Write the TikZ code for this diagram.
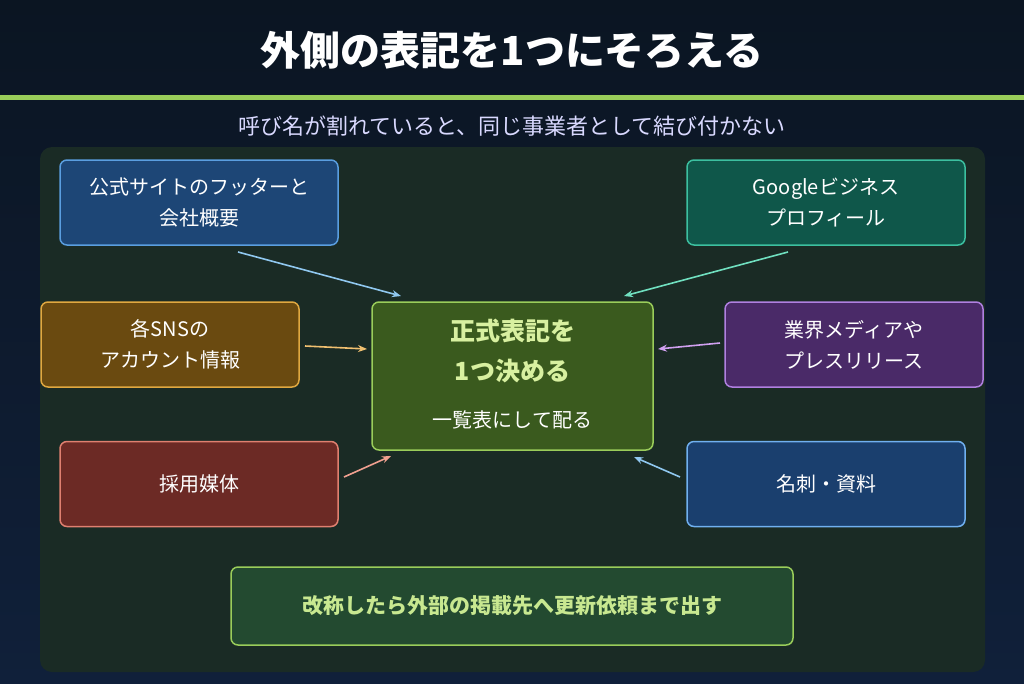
\documentclass[tikz,border=0pt]{standalone}
\usepackage{fontspec}
\setmainfont{Noto Sans CJK JP}
\usetikzlibrary{arrows.meta}
\definecolor{bgtop}{HTML}{0B1522}
\definecolor{bgbot}{HTML}{10203A}
\definecolor{accent}{HTML}{9ACD5A}
\definecolor{panel}{HTML}{1A2B25}
\definecolor{sitefill}{HTML}{1D4676}\definecolor{siteline}{HTML}{5A9EE0}
\definecolor{gbpfill}{HTML}{0F574A}\definecolor{gbpline}{HTML}{3CC0A0}
\definecolor{snsfill}{HTML}{6A4A10}\definecolor{snsline}{HTML}{E0A840}
\definecolor{mediafill}{HTML}{4A2A68}\definecolor{medialine}{HTML}{B080E0}
\definecolor{hirefill}{HTML}{6C2A25}\definecolor{hireline}{HTML}{E08070}
\definecolor{cardfill}{HTML}{1A3F6E}\definecolor{cardline}{HTML}{70B0F0}
\definecolor{mainfill}{HTML}{3A5A1E}\definecolor{maintext}{HTML}{D8F0A0}
\definecolor{rulefill}{HTML}{234A30}\definecolor{ruletext}{HTML}{C8E890}
\definecolor{arblue}{HTML}{90C8F0}\definecolor{arteal}{HTML}{70E0C0}
\definecolor{arorange}{HTML}{F0C070}\definecolor{arpurple}{HTML}{D0A0F0}
\definecolor{arpink}{HTML}{F0A090}
\tikzset{
  box/.style={draw, line width=1.5pt, rounded corners=7pt, minimum width=278pt,
    minimum height=85pt, align=center, text=white, font=\fontsize{20}{31}\selectfont},
  feed/.style={-{Stealth[length=9pt,width=7pt]}, line width=1.6pt},
}
\begin{document}
\begin{tikzpicture}[x=1pt,y=-1pt]
        \shade[top color=bgtop, bottom color=bgbot] (0,0) rectangle (1024,683);
        \useasboundingbox (0,0) rectangle (1024,683);
        \node[font=\bfseries\fontsize{40}{44}\selectfont, text=white] (title) at (512,50) {外側の表記を1つにそろえる};
        \fill[accent] (0,94.5) rectangle (1024,99.5);
        \node[font=\fontsize{22}{26}\selectfont, text=white!85!blue] (sub) at (512,126) {呼び名が割れていると、同じ事業者として結び付かない};
        \fill[panel, rounded corners=12pt] (40,147) rectangle (985,672);
        % sources
        \node[box, fill=sitefill, draw=siteline] (site) at (199,202.5) {公式サイトのフッターと\\会社概要};
        \node[box, fill=gbpfill, draw=gbpline] (gbp) at (826,202.5) {Googleビジネス\\プロフィール};
        \node[box, fill=snsfill, draw=snsline, minimum width=258pt] (sns) at (170,344.5) {各SNSの\\アカウント情報};
        \node[box, fill=mediafill, draw=medialine, minimum width=258pt] (media) at (854,344.5) {業界メディアや\\プレスリリース};
        \node[box, fill=hirefill, draw=hireline] (hire) at (199,484) {採用媒体};
        \node[box, fill=cardfill, draw=cardline] (card) at (826,484) {名刺・資料};
        % center
        \node[box, fill=mainfill, draw=accent, minimum width=281pt, minimum height=148pt] (main) at (512.5,376) {};
        \node[font=\bfseries\fontsize{25}{40}\selectfont, text=maintext, align=center] (mainttl) at (512.5,351) {正式表記を\\1つ決める};
        \node[font=\fontsize{20}{24}\selectfont, text=white] (mainsub) at (512.5,420) {一覧表にして配る};
        \node[box, fill=rulefill, draw=accent, minimum width=562pt, minimum height=78pt,
          font=\bfseries\fontsize{21}{24}\selectfont, text=ruletext] (rule) at (512,606) {改称したら外部の掲載先へ更新依頼まで出す};
        % arrow ends
        \coordinate (a1) at (238,252); \coordinate (b1) at (401,296);
        \coordinate (a2) at (788,252); \coordinate (b2) at (624,296);
        \coordinate (a3) at (305,346); \coordinate (b3) at (367,349);
        \coordinate (a4) at (720,343); \coordinate (b4) at (658,349);
        \coordinate (a5) at (344,477); \coordinate (b5) at (391,456);
        \coordinate (a6) at (680,477); \coordinate (b6) at (634,457);
        \draw[feed, arblue] (a1) -- (b1);
        \draw[feed, arteal] (a2) -- (b2);
        \draw[feed, arorange] (a3) -- (b3);
        \draw[feed, arpurple] (a4) -- (b4);
        \draw[feed, arpink] (a5) -- (b5);
        \draw[feed, arblue] (a6) -- (b6);
    \end{tikzpicture}
\end{document}
